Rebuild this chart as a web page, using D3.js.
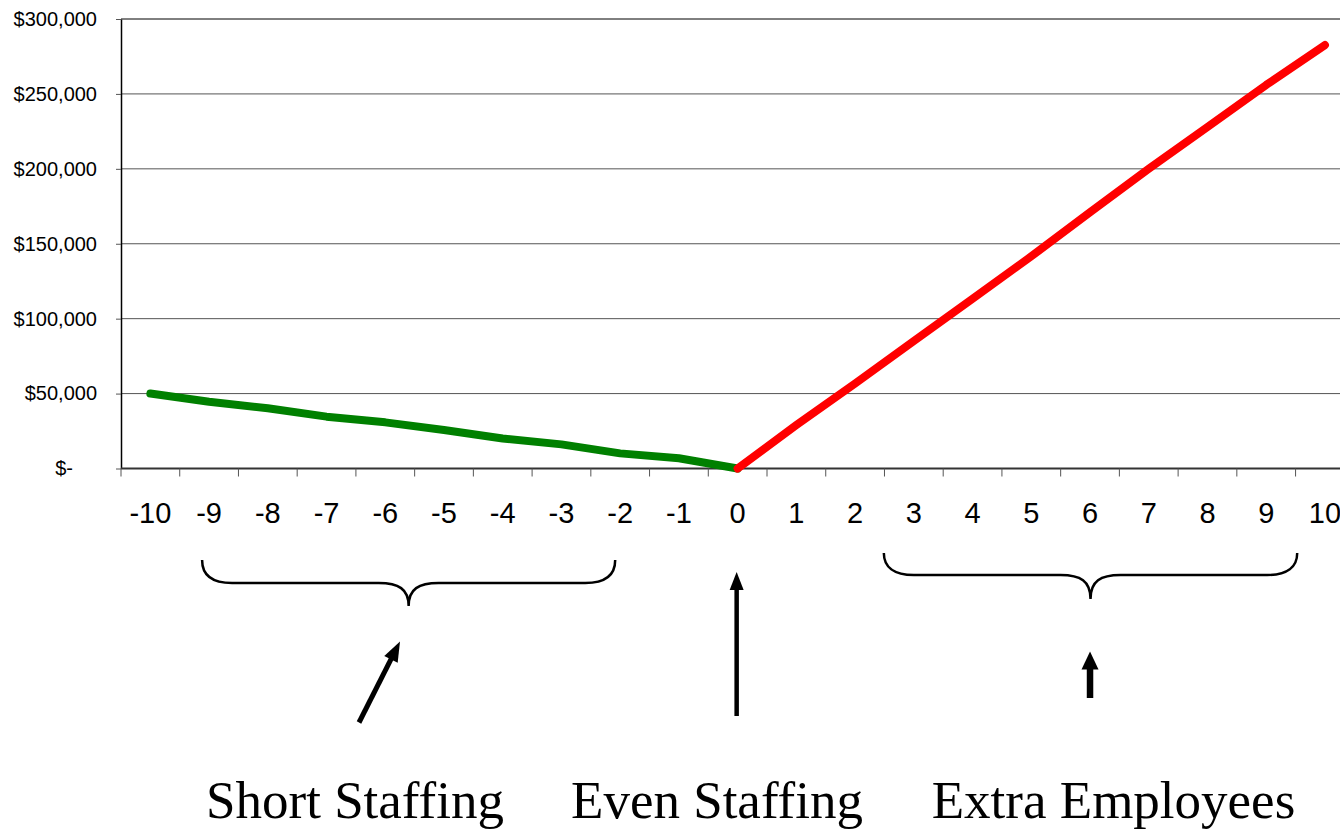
<!DOCTYPE html>
<html>
<head>
<meta charset="utf-8">
<script src="https://cdn.jsdelivr.net/npm/d3@7"></script>
<style>
  html, body { margin: 0; padding: 0; background: #fff; }
  svg { display: block; }
</style>
</head>
<body>
<svg id="chart" width="1340" height="829"></svg>
<script>
// Staffing level relative to even staffing (number of employees)
const categories = ["-10","-9","-8","-7","-6","-5","-4","-3","-2","-1","0","1","2","3","4","5","6","7","8","9","10"];

// Cost of being short-staffed (levels -10 .. 0)
const shortCategories = ["-10","-9","-8","-7","-6","-5","-4","-3","-2","-1","0"];
const shortValues = [50000, 44600, 40200, 34600, 30800, 25700, 20000, 16100, 10100, 6800, 0];

// Cost of carrying extra employees (levels 0 .. 10)
const extraCategories = ["0","1","2","3","4","5","6","7","8","9","10"];
const extraValues = [0, 29000, 56800, 85100, 113300, 141600, 171000, 200000, 228000, 256000, 282600];

// Dollar axis ticks
const yTicks = [0, 50000, 100000, 150000, 200000, 250000, 300000];

// Captions under the chart
const captions = ["Short Staffing", "Even Staffing", "Extra Employees"];

const svg = d3.select("#chart");

const plot = { left: 121, right: 1354.3, top: 19, bottom: 468.5 };

const x = d3.scaleBand().domain(categories).range([plot.left, plot.right]).paddingInner(0).paddingOuter(0);
const y = d3.scaleLinear().domain([0, 300000]).range([plot.bottom, plot.top]);
const cx = c => x(c) + x.bandwidth() / 2;

const fmt = v => v === 0 ? "$-" : "$" + d3.format(",")(v);

// Horizontal gridlines
svg.append("g").selectAll("line").data(yTicks.filter(d => d > 0)).join("line")
  .attr("x1", plot.left).attr("x2", 1340)
  .attr("y1", d => y(d)).attr("y2", d => y(d))
  .attr("stroke", d => d === 300000 ? "#000" : "#555")
  .attr("stroke-width", 1);

// Y axis
const yAxis = svg.append("g").attr("transform", `translate(${plot.left},0)`)
  .call(d3.axisLeft(y).tickValues(yTicks).tickSize(5).tickSizeOuter(0).tickFormat(fmt));
yAxis.select(".domain").attr("stroke", "#000").attr("stroke-width", 1.5);
yAxis.selectAll(".tick line").attr("stroke", "#555");
yAxis.selectAll(".tick text")
  .attr("font-family", "Liberation Sans, Arial, sans-serif")
  .attr("font-size", 20).attr("fill", "#000")
  .attr("x", d => d === 0 ? -48 : -24);

// X axis: tick marks at category boundaries, labels centred in each band
const xg = svg.append("g");
xg.append("line")
  .attr("x1", plot.left).attr("x2", 1340)
  .attr("y1", plot.bottom).attr("y2", plot.bottom)
  .attr("stroke", "#333").attr("stroke-width", 2);
const boundaries = categories.map(c => x(c)).concat([plot.right]);
xg.selectAll("line.tk").data(boundaries).join("line").attr("class", "tk")
  .attr("x1", d => d).attr("x2", d => d)
  .attr("y1", plot.bottom).attr("y2", plot.bottom + 8)
  .attr("stroke", "#555").attr("stroke-width", 1);
xg.selectAll("text").data(categories).join("text")
  .attr("x", d => cx(d)).attr("y", 522.5)
  .attr("text-anchor", "middle")
  .attr("font-family", "Liberation Sans, Arial, sans-serif")
  .attr("font-size", 29).attr("fill", "#000")
  .text(d => d);

// Cost lines
const line = d3.line().x(d => cx(d.c)).y(d => y(d.v));
const shortData = shortCategories.map((c, i) => ({ c, v: shortValues[i] }));
const extraData = extraCategories.map((c, i) => ({ c, v: extraValues[i] }));

svg.append("path").datum(shortData).attr("d", line)
  .attr("fill", "none").attr("stroke", "#008000").attr("stroke-width", 8)
  .attr("stroke-linecap", "round").attr("stroke-linejoin", "round");
svg.append("path").datum(extraData).attr("d", line)
  .attr("fill", "none").attr("stroke", "#ff0000").attr("stroke-width", 8)
  .attr("stroke-linecap", "round").attr("stroke-linejoin", "round");

// Curly braces grouping the staffing ranges
function brace(x0, x1, yTop, yMid, yTip) {
  const m = (x0 + x1) / 2;
  const r = 30;
  return `M${x0},${yTop} C${x0},${yMid - 8} ${x0 + 10},${yMid} ${x0 + r},${yMid}` +
    ` L${m - r},${yMid} C${m - 10},${yMid} ${m},${yMid + 6} ${m},${yTip}` +
    ` C${m},${yMid + 6} ${m + 10},${yMid} ${m + r},${yMid}` +
    ` L${x1 - r},${yMid} C${x1 - 10},${yMid} ${x1},${yMid - 8} ${x1},${yTop}`;
}
const ann = svg.append("g");
ann.append("path").attr("d", brace(cx("-9") - 7, cx("-2") - 5, 560, 583, 606))
  .attr("fill", "none").attr("stroke", "#000").attr("stroke-width", 2.5);
ann.append("path").attr("d", brace(cx("3") - 30, cx("9") + 31, 553, 575, 599))
  .attr("fill", "none").attr("stroke", "#000").attr("stroke-width", 2.5);

// Arrows pointing at each range
function arrow(x1, y1, x2, y2, shaftW, headL, headW) {
  const dx = x2 - x1, dy = y2 - y1, len = Math.hypot(dx, dy);
  const ux = dx / len, uy = dy / len, px = -uy, py = ux;
  const bx = x2 - ux * headL, by = y2 - uy * headL;
  ann.append("line").attr("x1", x1).attr("y1", y1).attr("x2", bx + ux).attr("y2", by + uy)
    .attr("stroke", "#000").attr("stroke-width", shaftW);
  ann.append("path")
    .attr("d", `M${x2},${y2} L${bx + px * headW / 2},${by + py * headW / 2} L${bx - px * headW / 2},${by - py * headW / 2}Z`)
    .attr("fill", "#000");
}
arrow(359, 722.5, 400, 641.5, 5, 20, 15);
arrow(cx("0") - 1, 716, cx("0") - 1, 572, 4.5, 18, 14);
arrow(cx("6"), 698, cx("6"), 651.5, 6.5, 18, 17);

// Captions
const capX = [355, 717, 1113.5];
svg.append("g").selectAll("text").data(captions).join("text")
  .attr("x", (d, i) => capX[i]).attr("y", 818)
  .attr("text-anchor", "middle")
  .attr("font-family", "Liberation Serif, Times New Roman, serif")
  .attr("font-size", 53).attr("fill", "#000")
  .text(d => d);
</script>
</body>
</html>
